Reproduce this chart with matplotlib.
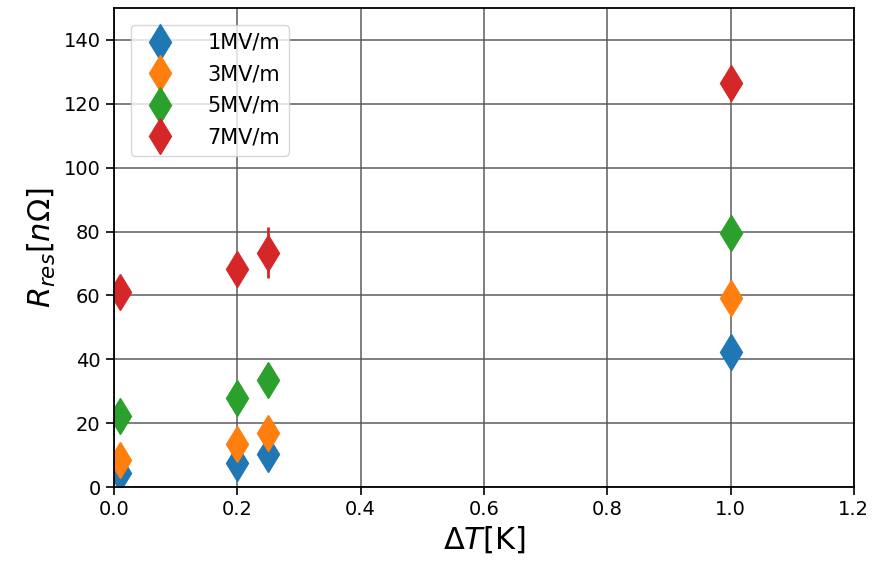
import numpy as np
import matplotlib
matplotlib.use("Agg")
import matplotlib.pyplot as plt

# temperature difference values (K)
dT = [0.01, 0.2, 0.25, 1.0]

# residual resistance per field level (nOhm)
labels = ["1MV/m", "3MV/m", "5MV/m", "7MV/m"]
r_1 = [4.4, 7.5, 10.3, 42.3]
r_3 = [8.5, 13.5, 17.0, 59.2]
r_5 = [22.3, 27.9, 33.5, 79.6]
r_7 = [61.0, 68.2, 73.4, 126.5]
err_1 = [1.0, 1.0, 1.0, 1.0]
err_3 = [1.0, 1.0, 1.0, 1.0]
err_5 = [1.0, 1.0, 1.0, 1.0]
err_7 = [1.0, 1.0, 8.0, 1.0]

series = [r_1, r_3, r_5, r_7]
errors = [err_1, err_3, err_5, err_7]
colors = ["#1f77b4", "#ff7f0e", "#2ca02c", "#d62728"]

fig = plt.figure(figsize=(8.83, 5.67), dpi=100)
ax = fig.add_axes([0.129, 0.141, 0.838, 0.845])

for vals, err, lab, c in zip(series, errors, labels, colors):
    ax.errorbar(dT, vals, yerr=err, fmt="d", color=c, markersize=18,
                elinewidth=2, label=lab)

ax.set_xlim(0, 1.2)
ax.set_ylim(0, 150)
ax.set_yticks(np.arange(0, 141, 20))
ax.grid(True, color="#555555", linewidth=1.4, alpha=0.75)
ax.set_axisbelow(True)
ax.tick_params(labelsize=14, width=1.2, length=6)
for s in ax.spines.values():
    s.set_linewidth(1.3)

ax.set_xlabel(r"$\Delta T$[K]", fontsize=22)
ax.set_ylabel(r"$R_{res}[n\Omega]$", fontsize=22)
ax.legend(loc="upper left", fontsize=15, handletextpad=1.3,
          borderaxespad=0.8, labelspacing=0.55)

fig.savefig("out.png", dpi=100)
